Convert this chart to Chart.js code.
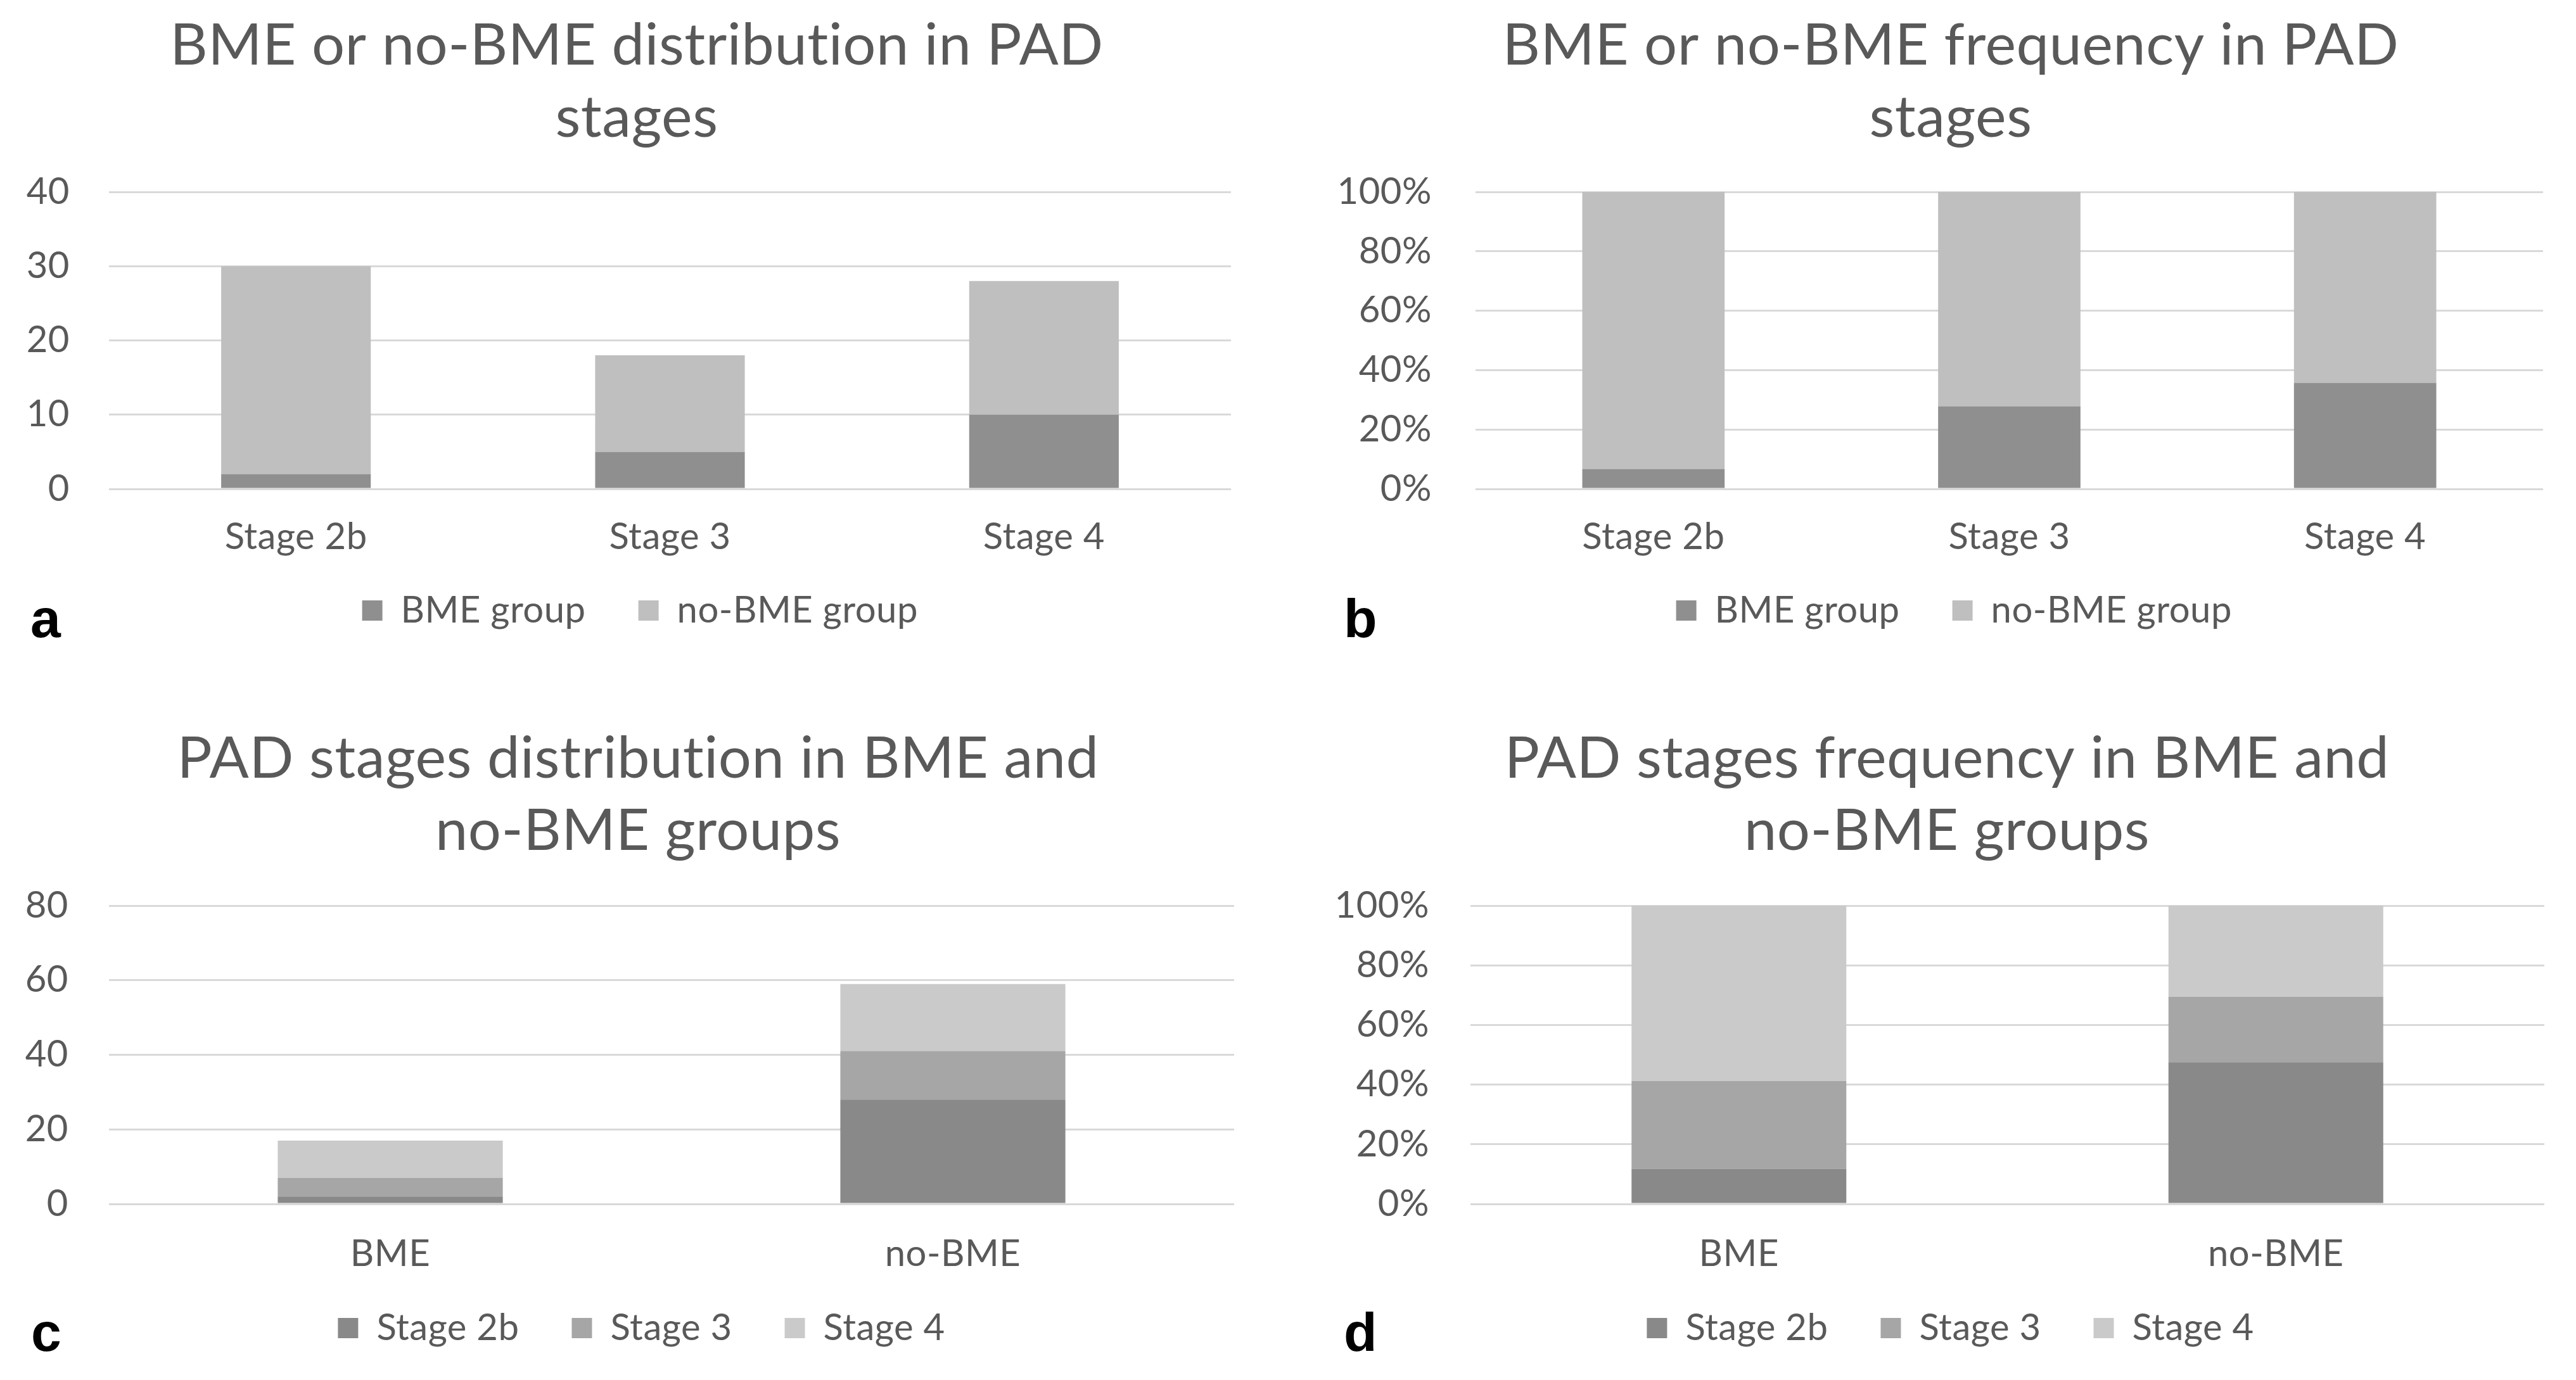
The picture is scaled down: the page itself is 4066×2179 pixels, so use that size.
<!DOCTYPE html>
<html><head><meta charset="utf-8">
<script src="https://cdn.jsdelivr.net/npm/chart.js@4.4.1/dist/chart.umd.min.js"></script>
<style>
html,body{margin:0;padding:0;background:#fff;width:4066px;height:2179px;overflow:hidden}
canvas{position:absolute;display:block}
</style></head><body>
<canvas id="ca" width="2033" height="1090" style="left:0px;top:0px;width:2033px;height:1090px"></canvas>
<canvas id="cb" width="2033" height="1090" style="left:2033px;top:0px;width:2033px;height:1090px"></canvas>
<canvas id="cc" width="2033" height="1089" style="left:0px;top:1090px;width:2033px;height:1089px"></canvas>
<canvas id="cd" width="2033" height="1089" style="left:2033px;top:1090px;width:2033px;height:1089px"></canvas>
<script>
// ---- data ----
const stageLabels = ['Stage 2b', 'Stage 3', 'Stage 4'];
const groupLabels = ['BME', 'no-BME'];
// panel a: counts per PAD stage
const bmeCounts = [2, 5, 10];
const noBmeCounts = [28, 13, 18];
// panel b: percent per PAD stage
const bmePercent = [6.7, 27.8, 35.7];
const noBmePercent = [93.3, 72.2, 64.3];
// panel c: counts per group
const stage2bCounts = [2, 28];
const stage3Counts = [5, 13];
const stage4Counts = [10, 18];
// panel d: percent per group
const stage2bPercent = [11.8, 47.5];
const stage3Percent = [29.4, 22.0];
const stage4Percent = [58.8, 30.5];
// axis ranges
const yMaxA = 40, yStepA = 10;
const yMaxB = 100, yStepB = 20;
const yMaxC = 80, yStepC = 20;
const yMaxD = 100, yStepD = 20;

const FONT = 'Lato, Carlito, Calibri, sans-serif';
const TXT = '#595959';
const C_BME = '#8f8f8f', C_NOBME = '#bfbfbf';
const C_S2 = '#898989', C_S3 = '#a6a6a6', C_S4 = '#cacaca';

Chart.defaults.font.family = FONT;
Chart.defaults.color = TXT;

const letterPlugin = {
  id: 'panelLetter',
  beforeDraw(chart) {
    // non-zero letter spacing switches off the "ti" ligature of Lato
    try { chart.ctx.letterSpacing = '0.5px'; } catch (e) {}
  },
  afterDraw(chart, args, opts) {
    const ctx = chart.ctx;
    ctx.save();
    ctx.font = 'bold ' + opts.size + 'px "Liberation Sans", Arial, sans-serif';
    ctx.fillStyle = '#000';
    ctx.textAlign = 'left';
    ctx.textBaseline = 'alphabetic';
    ctx.fillText(opts.text, opts.x, opts.y);
    ctx.restore();
  }
};

function makeChart(id, p) {
  new Chart(document.getElementById(id), {
    type: 'bar',
    data: { labels: p.labels, datasets: p.datasets.map(d => ({
      label: d.label, data: d.data, backgroundColor: d.color, borderWidth: 0,
      categoryPercentage: 1.0, barPercentage: 0.4
    })) },
    plugins: [letterPlugin],
    options: {
      responsive: false, animation: false, devicePixelRatio: 1,
      layout: { padding: { left: p.padL, right: p.padR, top: 0, bottom: p.padBottom } },
      plugins: {
        tooltip: { enabled: false },
        title: {
          display: true, text: p.title, color: TXT,
          font: { family: FONT, size: 92, weight: 'normal', lineHeight: '114px' },
          padding: { top: p.titleTop, bottom: p.titleBottom }
        },
        legend: {
          position: 'bottom',
          labels: { color: TXT, font: { family: FONT, size: 58 }, boxWidth: 32, boxHeight: 32, padding: 83 }
        },
        panelLetter: { text: p.letter, x: p.letterX, y: p.letterY, size: 86 }
      },
      scales: {
        x: {
          stacked: true,
          grid: { display: false, drawTicks: false },
          border: { display: false },
          ticks: { color: TXT, font: { family: FONT, size: 58 }, padding: p.xPad, maxRotation: 0 },
          afterFit: s => { s.height = p.xHeight; s._computeLabelArea = () => undefined; }
        },
        y: {
          stacked: true, min: 0, max: p.yMax,
          grid: { color: '#d9d9d9', lineWidth: 3, drawTicks: false },
          border: { display: false },
          ticks: {
            stepSize: p.yStep, color: TXT, font: { family: FONT, size: 58 }, padding: p.tickPad,
            callback: v => p.percent ? v + '%' : v
          },
          afterFit: s => { s.width = p.yWidth; s._computeLabelArea = () => undefined; }
        }
      }
    }
  });
}

makeChart('ca', {
  labels: stageLabels,
  datasets: [
    { label: 'BME group', data: bmeCounts, color: C_BME },
    { label: 'no-BME group', data: noBmeCounts, color: C_NOBME }
  ],
  title: ['BME or no-BME distribution in PAD', 'stages'],
  yMax: yMaxA, yStep: yStepA, percent: false,
  padL: 67, padR: 90, padBottom: 87, titleTop: 15, titleBottom: 60, xHeight: 80, xPad: 41,
  yWidth: 105, tickPad: 62, letter: 'a', letterX: 48, letterY: 1006
});
makeChart('cb', {
  labels: stageLabels,
  datasets: [
    { label: 'BME group', data: bmePercent, color: C_BME },
    { label: 'no-BME group', data: noBmePercent, color: C_NOBME }
  ],
  title: ['BME or no-BME frequency in PAD', 'stages'],
  yMax: yMaxB, yStep: yStepB, percent: true,
  padL: 111, padR: 52, padBottom: 87, titleTop: 15, titleBottom: 60, xHeight: 80, xPad: 41,
  yWidth: 185, tickPad: 69, letter: 'b', letterX: 88, letterY: 1006
});
makeChart('cc', {
  labels: groupLabels,
  datasets: [
    { label: 'Stage 2b', data: stage2bCounts, color: C_S2 },
    { label: 'Stage 3', data: stage3Counts, color: C_S3 },
    { label: 'Stage 4', data: stage4Counts, color: C_S4 }
  ],
  title: ['PAD stages distribution in BME and', 'no-BME groups'],
  yMax: yMaxC, yStep: yStepC, percent: false,
  padL: 66, padR: 85, padBottom: 43, titleTop: 51, titleBottom: 61, xHeight: 84, xPad: 44,
  yWidth: 106, tickPad: 64, letter: 'c', letterX: 49, letterY: 1043
});
makeChart('cd', {
  labels: groupLabels,
  datasets: [
    { label: 'Stage 2b', data: stage2bPercent, color: C_S2 },
    { label: 'Stage 3', data: stage3Percent, color: C_S3 },
    { label: 'Stage 4', data: stage4Percent, color: C_S4 }
  ],
  title: ['PAD stages frequency in BME and', 'no-BME groups'],
  yMax: yMaxD, yStep: yStepD, percent: true,
  padL: 97, padR: 50, padBottom: 43, titleTop: 51, titleBottom: 61, xHeight: 84, xPad: 44,
  yWidth: 191, tickPad: 65, letter: 'd', letterX: 88, letterY: 1043
});
</script>
</body></html>
